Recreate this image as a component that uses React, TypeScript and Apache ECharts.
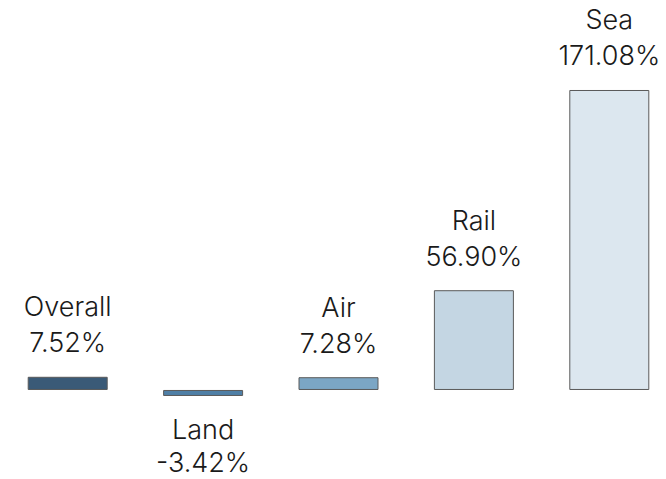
import React, { useEffect, useRef } from "react";
import * as echarts from "echarts";

const categories = ["Overall", "Land", "Air", "Rail", "Sea"];
const values = [7.52, -3.42, 7.28, 56.9, 171.08];
const colors = ["#3a5a77", "#4f7fa6", "#7ba6c5", "#c4d6e3", "#dce7ef"];

export default function App() {
  const ref = useRef<HTMLDivElement>(null);
  useEffect(() => {
    const chart = echarts.init(ref.current!, null, { renderer: "svg" });
    chart.setOption({
      animation: false,
      grid: { left: 0, right: 0, top: 74.35, height: 350.7 },
      xAxis: {
        type: "category",
        data: categories,
        show: false,
      },
      yAxis: { type: "value", min: -20, max: 180, show: false },
      series: [
        {
          type: "bar",
          barWidth: 80,
          data: values.map((v, i) => ({
            value: v,
            itemStyle: { color: colors[i], borderColor: "#5a5a5a", borderWidth: 1 },
            label: {
              show: true,
              position: v < 0 ? "bottom" : "top",
              distance: v < 0 ? 17 : 16,
              formatter: (p: any) => `${p.name}\n${(p.value as number).toFixed(2)}%`,
              fontFamily: "Inter",
              fontWeight: 300,
              fontSize: 27,
              lineHeight: v < 0 ? 33 : 36,
              color: "#1a1a1a",
            },
          })),
        },
      ],
    });
    return () => chart.dispose();
  }, []);
  return (
    <div style={{ position: "fixed", left: 0, top: 0, width: 666, height: 479, overflow: "hidden", background: "#fff" }}>
      <div ref={ref} style={{ position: "absolute", left: 0, top: 0, width: 677, height: 479 }} />
    </div>
  );
}
